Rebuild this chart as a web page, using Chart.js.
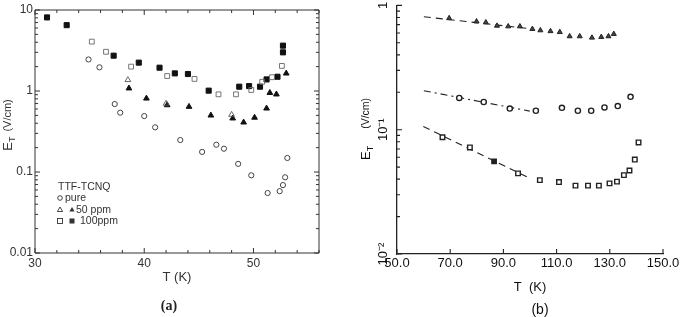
<!DOCTYPE html>
<html lang="en">
<head>
  <meta charset="UTF-8" />
  <title>TTF-TCNQ threshold field</title>
  <script src="https://cdn.jsdelivr.net/npm/chart.js"></script>
  <style>
    body { margin: 0; background: #fff; width: 681px; height: 317px; overflow: hidden; position: relative; }
    .panel { position: absolute; top: 0; height: 317px; }
    #panelA { left: 0; width: 340px; }
    #panelB { left: 340px; width: 341px; }
  </style>
</head>
<body>
  <div class="panel" id="panelA"><canvas id="chartA"></canvas></div>
  <div class="panel" id="panelB"><canvas id="chartB"></canvas></div>

  <script>
    // ---- panel (a): E_T vs T for TTF-TCNQ samples ----
    const tPure = [34.9, 35.9, 37.3, 37.8, 40.0, 41.0, 43.3, 45.3, 46.6, 47.3, 48.6, 49.8, 51.3, 52.4, 52.7, 52.9, 53.1];
    const ePure = [2.45, 1.96, 0.69, 0.54, 0.49, 0.356, 0.248, 0.177, 0.217, 0.194, 0.126, 0.091, 0.055, 0.058, 0.069, 0.086, 0.149];

    const t50Open = [38.5, 42.0, 48.0];
    const e50Open = [1.37, 0.70, 0.51];
    const t50Fill = [38.6, 40.2, 42.1, 44.1, 46.1, 48.1, 49.1, 50.1, 51.2, 51.5, 52.1, 53.0];
    const e50Fill = [1.08, 0.81, 0.67, 0.64, 0.50, 0.46, 0.41, 0.47, 0.61, 0.95, 0.91, 1.65];

    const t100Open = [35.2, 36.5, 38.8, 42.1, 44.6, 46.8, 48.4, 49.8, 50.8, 51.7, 52.6];
    const e100Open = [4.07, 3.05, 2.0, 1.53, 1.41, 0.91, 0.91, 1.03, 1.30, 1.48, 2.04];
    const t100Fill = [31.1, 32.9, 37.2, 39.5, 41.4, 42.8, 44.0, 45.9, 48.7, 49.6, 50.6, 51.2, 52.2, 52.7, 52.7];
    const e100Fill = [8.1, 6.5, 2.73, 2.24, 1.94, 1.65, 1.62, 1.01, 1.13, 1.15, 1.13, 1.39, 1.50, 3.63, 3.0];

    const xTicksA = [30, 40, 50];
    const xLabelsA = ['30', '40', '50'];
    const yTicksA = [0.01, 0.1, 1, 10];
    const yLabelsA = ['0.01', '0.1', '1', '10'];

    // ---- panel (b) ----
    const tTriB = [69.6, 79.9, 83.4, 87.6, 91.8, 96.2, 100.9, 103.9, 107.7, 111.2, 114.9, 118.7, 123.3, 126.8, 129.5, 131.5];
    const eTriB = [0.789, 0.743, 0.73, 0.686, 0.678, 0.678, 0.646, 0.63, 0.62, 0.61, 0.564, 0.564, 0.55, 0.557, 0.564, 0.589];
    const tCircB = [73.4, 82.6, 92.4, 102.2, 112.0, 118.0, 123.0, 128.0, 133.0, 137.8];
    const eCircB = [0.18, 0.167, 0.148, 0.142, 0.150, 0.142, 0.142, 0.151, 0.155, 0.184];
    const tSqB = [67.1, 77.4, 95.5, 103.7, 110.9, 117.1, 121.8, 125.9, 129.9, 132.7, 135.3, 137.4, 139.4, 140.8];
    const eSqB = [0.0869, 0.072, 0.0445, 0.0393, 0.0379, 0.0355, 0.0355, 0.0355, 0.037, 0.0382, 0.0431, 0.047, 0.0575, 0.079];
    const tSqFillB = [86.5];
    const eSqFillB = [0.0557];

    // fitted curves (end points)
    const tFitTri = [60.1, 101.0];
    const eFitTri = [0.81, 0.646];
    const tFitCirc = [60.1, 99.9];
    const eFitCirc = [0.206, 0.141];
    const tFitSq = [59.9, 99.9];
    const eFitSq = [0.106, 0.0407];

    const xTicksB = [50, 70, 90, 110, 130, 150];
    const xLabelsB = ['50.0', '70.0', '90.0', '110.0', '130.0', '150.0'];
    const yTicksB = [0.01, 0.1, 1];
    const yLabelsB = ['10\u207B\u00B2', '10\u207B\u00B9', '1'];

    const FONT = "'Liberation Sans', Arial, sans-serif";
    Chart.defaults.font.family = FONT;
    Chart.defaults.animation = false;

    const pts = (xs, ys) => xs.map((v, i) => ({ x: v, y: ys[i] }));

    // log minor ticks 2..9 within each decade
    function logMinor(lo, hi) {
      const out = [];
      for (let d = lo; d < hi; d *= 10) {
        for (let k = 2; k <= 9; k++) out.push(d * k);
      }
      return out;
    }

    // inward tick marks + optional frame
    function tickPlugin(cfg) {
      return {
        id: 'ticks_' + cfg.name,
        beforeDatasetsDraw(chart) {
          const { ctx, chartArea: a, scales: { x, y } } = chart;
          ctx.save();
          ctx.strokeStyle = cfg.color;
          ctx.lineWidth = cfg.lineWidth;
          ctx.beginPath();
          if (cfg.box) ctx.rect(a.left, a.top, a.right - a.left, a.bottom - a.top);
          const xt = (vals, len) => vals.forEach(v => {
            const px = x.getPixelForValue(v);
            ctx.moveTo(px, a.bottom); ctx.lineTo(px, a.bottom - len);
            if (cfg.box) { ctx.moveTo(px, a.top); ctx.lineTo(px, a.top + len); }
          });
          const yt = (vals, len) => vals.forEach(v => {
            const py = y.getPixelForValue(v);
            ctx.moveTo(a.left, py); ctx.lineTo(a.left + len, py);
            if (cfg.box) { ctx.moveTo(a.right, py); ctx.lineTo(a.right - len, py); }
          });
          xt(cfg.xMajor, cfg.major);
          xt(cfg.xMinor, cfg.minor);
          yt(cfg.yMajor, cfg.major);
          yt(cfg.yMinor, cfg.minor);
          ctx.stroke();
          ctx.restore();
        }
      };
    }

    // rotated "E_T (V/cm)" with a real subscript
    function drawETitle(ctx, cx, cy, s, color) {
      ctx.save();
      ctx.translate(cx, cy);
      ctx.rotate(-Math.PI / 2);
      ctx.fillStyle = color;
      ctx.textBaseline = 'middle';
      ctx.textAlign = 'left';
      ctx.font = s.e + 'px ' + FONT; const wE = ctx.measureText('E').width;
      ctx.font = s.t + 'px ' + FONT; const wT = ctx.measureText('T').width;
      ctx.font = s.u + 'px ' + FONT; const wU = ctx.measureText('(V/cm)').width;
      const x0 = -(wE + wT + s.gap + wU) / 2;
      ctx.font = s.e + 'px ' + FONT; ctx.fillText('E', x0, 0);
      ctx.font = s.t + 'px ' + FONT; ctx.fillText('T', x0 + wE, s.e * 0.32);
      ctx.font = s.u + 'px ' + FONT; ctx.fillText('(V/cm)', x0 + wE + wT + s.gap, 0);
      ctx.restore();
    }

    function range(a, b, step) {
      const out = [];
      for (let v = a; v <= b + 1e-9; v += step) out.push(v);
      return out;
    }

    // ---------------- chart (a) ----------------
    const textA = {
      id: 'textA',
      afterDraw(chart) {
        const { ctx, chartArea: a } = chart;
        const col = '#333';
        drawETitle(ctx, 8, 125, { e: 13, t: 9, u: 11, gap: 5 }, col);

        // legend block
        const lx = a.left + 25, base = a.bottom;
        ctx.save();
        ctx.fillStyle = col;
        ctx.strokeStyle = col;
        ctx.lineWidth = 0.9;
        ctx.textBaseline = 'middle';
        ctx.font = '10.5px ' + FONT;
        ctx.fillText('TTF-TCNQ', lx - 2, base - 66);
        // circle
        ctx.beginPath(); ctx.arc(lx, base - 55, 2.3, 0, Math.PI * 2); ctx.stroke();
        ctx.fillText('pure', lx + 5, base - 55);
        // triangles
        const tri = (cx, cy, r, fill) => {
          ctx.beginPath();
          ctx.moveTo(cx, cy - r); ctx.lineTo(cx + r * 0.87, cy + r * 0.5); ctx.lineTo(cx - r * 0.87, cy + r * 0.5); ctx.closePath();
          fill ? ctx.fill() : ctx.stroke();
        };
        tri(lx, base - 43, 3, false); tri(lx + 12, base - 43, 3, true);
        ctx.fillText('50 ppm', lx + 16, base - 43);
        ctx.strokeRect(lx - 2.5, base - 34.5, 5, 5);
        ctx.fillRect(lx + 9.5, base - 34.5, 5, 5);
        ctx.fillText('100ppm', lx + 20, base - 32);

        ctx.textAlign = 'center';
        ctx.font = 'bold 14px "Liberation Serif", serif';
        ctx.fillStyle = '#222';
        ctx.fillText('(a)', 169, 306);
        ctx.restore();
      }
    };

    new Chart(document.getElementById('chartA'), {
      type: 'scatter',
      data: {
        datasets: [
          { label: 'pure', data: pts(tPure, ePure), pointStyle: 'circle', pointRadius: 2.6, borderWidth: 1, borderColor: '#444', backgroundColor: 'rgba(0,0,0,0)' },
          { label: '50 ppm (open)', data: pts(t50Open, e50Open), pointStyle: 'triangle', pointRadius: 3.3, borderWidth: 0.9, borderColor: '#555', backgroundColor: 'rgba(0,0,0,0)' },
          { label: '50 ppm', data: pts(t50Fill, e50Fill), pointStyle: 'triangle', pointRadius: 3.3, borderWidth: 1, borderColor: '#111', backgroundColor: '#111' },
          { label: '100 ppm (open)', data: pts(t100Open, e100Open), pointStyle: 'rect', pointRadius: 3.4, borderWidth: 0.9, borderColor: '#666', backgroundColor: 'rgba(0,0,0,0)' },
          { label: '100 ppm', data: pts(t100Fill, e100Fill), pointStyle: 'rect', pointRadius: 3.6, borderWidth: 1, borderColor: '#111', backgroundColor: '#111' }
        ]
      },
      options: {
        responsive: true,
        maintainAspectRatio: false,
        layout: { padding: { top: 10, right: 21, bottom: 0, left: 0 } },
        plugins: { legend: { display: false }, tooltip: { enabled: false } },
        scales: {
          x: {
            type: 'linear', min: 30, max: 56,
            grid: { display: false, drawTicks: false },
            border: { display: false },
            afterBuildTicks: s => { s.ticks = xTicksA.map(v => ({ value: v })); },
            afterFit: s => { s.height = 64; s.paddingLeft = 0; s.paddingRight = 0; },
            ticks: { autoSkip: false, maxRotation: 0, padding: 3, color: '#333', font: { size: 12 },
                     callback: (v, i) => xLabelsA[i] },
            title: { display: true, text: 'T (K)', color: '#333', font: { size: 13 }, padding: { top: 0, bottom: 32 } }
          },
          y: {
            type: 'logarithmic', min: 0.01, max: 10,
            grid: { display: false, drawTicks: false },
            border: { display: false },
            afterBuildTicks: s => { s.ticks = yTicksA.map(v => ({ value: v })); },
            afterFit: s => { s.width = 35; s.paddingTop = 0; s.paddingBottom = 0; },
            ticks: { autoSkip: false, padding: 2, color: '#333', font: { size: 12 },
                     callback: (v, i) => yLabelsA[i] }
          }
        }
      },
      plugins: [
        tickPlugin({ name: 'a', box: true, color: '#333', lineWidth: 1, major: 5, minor: 3,
          xMajor: xTicksA, xMinor: range(30, 56, 2).filter(v => v % 10 !== 0),
          yMajor: yTicksA, yMinor: logMinor(0.01, 10) }),
        textA
      ]
    });

    // ---------------- chart (b) ----------------
    const textB = {
      id: 'textB',
      afterDraw(chart) {
        const { ctx } = chart;
        drawETitle(ctx, 26, 129, { e: 13, t: 9, u: 10.5, gap: 17 }, '#111');
        ctx.save();
        ctx.fillStyle = '#111';
        ctx.textAlign = 'center';
        ctx.textBaseline = 'middle';
        ctx.font = '14px ' + FONT;
        ctx.fillText('(b)', 200, 310);
        ctx.restore();
      }
    };

    new Chart(document.getElementById('chartB'), {
      type: 'scatter',
      data: {
        datasets: [
          { label: 'triangles', data: pts(tTriB, eTriB), pointStyle: 'triangle', pointRadius: 2.9, borderWidth: 1, borderColor: '#222', backgroundColor: '#444' },
          { label: 'circles', data: pts(tCircB, eCircB), pointStyle: 'circle', pointRadius: 2.6, borderWidth: 1.4, borderColor: '#222', backgroundColor: '#fff' },
          { label: 'squares', data: pts(tSqB, eSqB), pointStyle: 'rect', pointRadius: 3.2, borderWidth: 1.4, borderColor: '#222', backgroundColor: '#fff' },
          { label: 'square (filled)', data: pts(tSqFillB, eSqFillB), pointStyle: 'rect', pointRadius: 3.2, borderWidth: 1.2, borderColor: '#222', backgroundColor: '#222' },
          { label: 'fit 1', data: pts(tFitTri, eFitTri), showLine: true, pointRadius: 0, borderColor: '#222', borderWidth: 1.1, borderDash: [7, 5] },
          { label: 'fit 2', data: pts(tFitCirc, eFitCirc), showLine: true, pointRadius: 0, borderColor: '#222', borderWidth: 1.1, borderDash: [7, 4, 2, 4] },
          { label: 'fit 3', data: pts(tFitSq, eFitSq), showLine: true, pointRadius: 0, borderColor: '#222', borderWidth: 1.1, borderDash: [7, 5] }
        ]
      },
      options: {
        responsive: true,
        maintainAspectRatio: false,
        layout: { padding: { top: 2, right: 18, bottom: 0, left: 0 } },
        plugins: { legend: { display: false }, tooltip: { enabled: false } },
        scales: {
          x: {
            type: 'linear', min: 50, max: 150,
            grid: { display: false, drawTicks: false },
            border: { display: true, color: '#222', width: 1.3 },
            afterBuildTicks: s => { s.ticks = xTicksB.map(v => ({ value: v })); },
            afterFit: s => { s.height = 63; s.paddingLeft = 0; s.paddingRight = 0; },
            ticks: { autoSkip: false, maxRotation: 0, padding: 2, color: '#111', font: { size: 13 },
                     callback: (v, i) => xLabelsB[i] },
            title: { display: true, text: 'T  (K)', color: '#111', font: { size: 13 }, padding: { top: 0, bottom: 22 } }
          },
          y: {
            type: 'logarithmic', min: 0.01, max: 1,
            grid: { display: false, drawTicks: false },
            border: { display: true, color: '#222', width: 1.3 },
            afterBuildTicks: s => { s.ticks = yTicksB.map(v => ({ value: v })); },
            afterFit: s => { s.width = 57; s.paddingTop = 0; s.paddingBottom = 0; },
            ticks: { autoSkip: false, minRotation: 90, maxRotation: 90, crossAlign: 'center', padding: 2,
                     color: '#111', font: { size: 13 }, callback: (v, i) => yLabelsB[i] }
          }
        }
      },
      plugins: [
        tickPlugin({ name: 'b', box: false, color: '#222', lineWidth: 1.1, major: 5, minor: 3,
          xMajor: xTicksB, xMinor: [],
          yMajor: yTicksB, yMinor: logMinor(0.01, 1) }),
        textB
      ]
    });
  </script>
</body>
</html>
